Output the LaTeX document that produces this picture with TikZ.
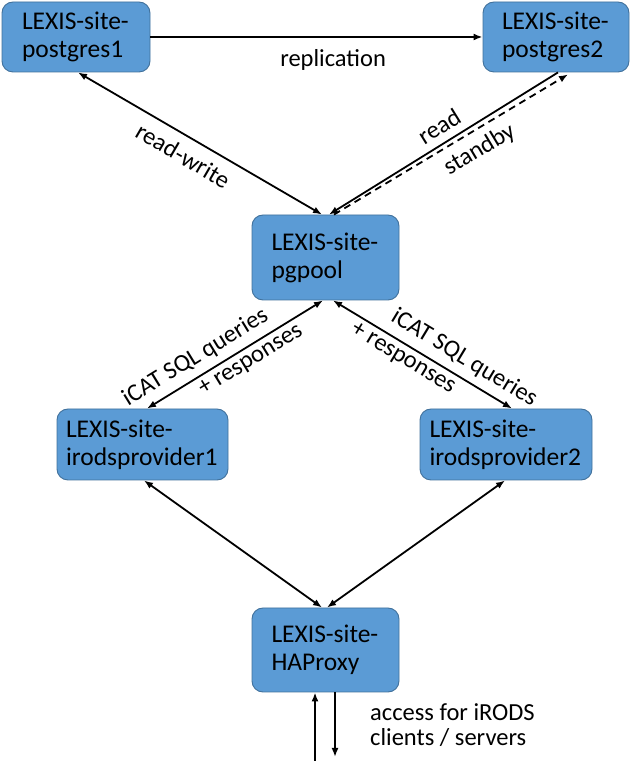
\documentclass[tikz,border=0pt]{standalone}
\usepackage{fontspec}
\setmainfont{Carlito}
\usepackage{xcolor}
\usetikzlibrary{arrows.meta}
\definecolor{siteblue}{HTML}{5B9BD5}
\definecolor{siteedge}{HTML}{41719C}

\begin{document}
\begin{tikzpicture}[x=1pt, y=1pt, >={Latex[length=9pt,width=7pt]},
    site/.style={draw=siteedge, fill=siteblue, line width=0.9pt, rounded corners=11pt,
        align=left, inner sep=0pt, font=\fontsize{25.5}{28}\selectfont},
    lbl/.style={inner sep=2pt, font=\fontsize{24.5}{25}\selectfont},
    link/.style={line width=1.8pt}]
    \useasboundingbox (0,0) rectangle (632,761);
    \node[site, minimum width=148pt, minimum height=70pt, text width=108pt] (pg1) at (76,724) {LEXIS-site-\\postgres1};
    \node[site, minimum width=146pt, minimum height=70pt, text width=108pt] (pg2) at (556,724) {LEXIS-site-\\postgres2};
    \node[site, minimum width=147pt, minimum height=85pt, text width=108pt] (pool) at (325.5,503.5) {LEXIS-site-\\pgpool};
    \node[site, minimum width=171pt, minimum height=71pt, text width=153pt] (prov1) at (142.5,316.5) {LEXIS-site-\\irodsprovider1};
    \node[site, minimum width=172pt, minimum height=71pt, text width=153pt] (prov2) at (506,316.5) {LEXIS-site-\\irodsprovider2};
    \node[site, minimum width=147pt, minimum height=84pt, text width=108pt] (proxy) at (325.5,111) {LEXIS-site-\\HAProxy};

    \draw[link, ->] (pg1.east) -- (pg2.west) node[lbl, pos=0.55, below=10pt] {replication};
    \draw[link, <->] ([xshift=-3.5pt]pool.north) -- ([xshift=2pt]pg1.south)
        node[lbl, pos=0.53, sloped, below=7.5pt] {read-write};
    \draw[link, <-] ([xshift=3.5pt]pool.north) -- ([xshift=2pt]pg2.south)
        node[lbl, pos=0.52, sloped, above=5.5pt] {read};
    \draw[link, ->, dash pattern=on 7pt off 5pt] ([xshift=8.5pt]pool.north) -- ([xshift=12pt,yshift=-2pt]pg2.south)
        node[lbl, pos=0.58, sloped, below=6pt] {standby};

    \draw[link, <->] ([xshift=-2.5pt]pool.south) -- ([xshift=4.5pt]prov1.north)
        node[lbl, pos=0.67, sloped, above=5pt] {iCAT SQL queries}
        node[lbl, pos=0.45, sloped, below=2.5pt] {+ responses};
    \draw[link, <->] ([xshift=7.5pt]pool.south) -- ([xshift=6pt]prov2.north)
        node[lbl, pos=0.68, sloped, above=5pt] {iCAT SQL queries}
        node[lbl, pos=0.43, sloped, below=2.5pt] {+ responses};

    \draw[link, <->] ([xshift=1.5pt]prov1.south) -- ([xshift=-3.5pt]proxy.north);
    \draw[link, <->] ([xshift=-1pt]prov2.south) -- ([xshift=1.5pt]proxy.north);

    \coordinate (clin) at (315,0);
    \coordinate (clout) at (335,4);
    \draw[link, ->] (clin) -- (clin |- proxy.south);
    \draw[link, ->] (proxy.south -| clout) -- (clout);
    \node[lbl, align=left, anchor=west] (access) at (368,36) {access for iRODS\\clients / servers};
\end{tikzpicture}
\end{document}
